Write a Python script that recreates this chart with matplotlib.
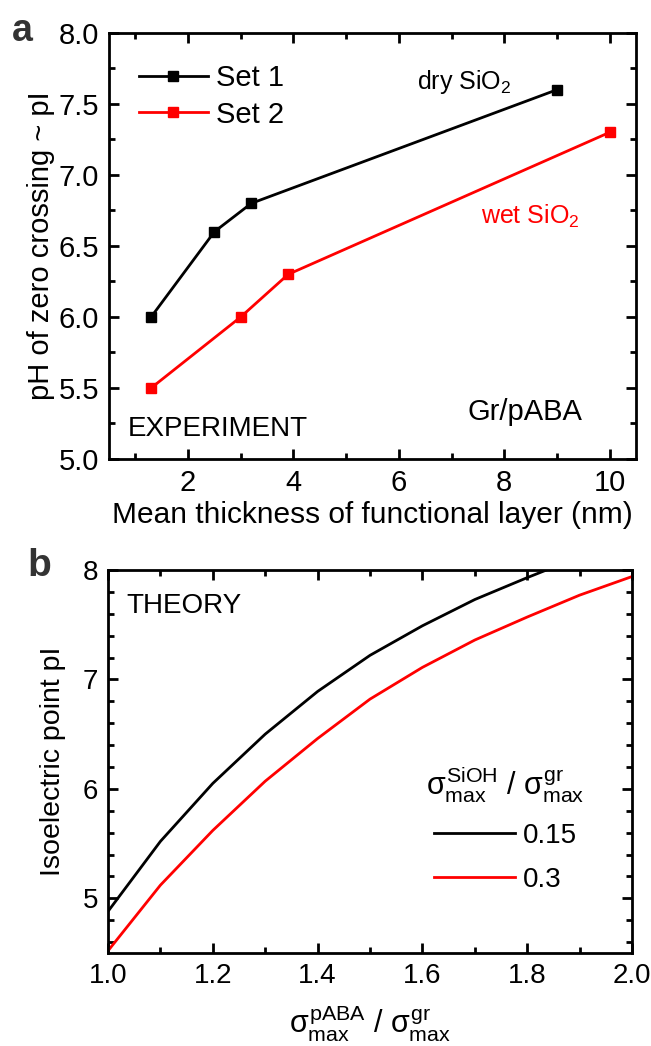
import matplotlib
matplotlib.use("Agg")
import matplotlib.pyplot as plt
from matplotlib.ticker import MultipleLocator, FormatStrFormatter

plt.rcParams["font.family"] = ["Liberation Sans", "DejaVu Sans"]
plt.rcParams["mathtext.fontset"] = "custom"
plt.rcParams["mathtext.rm"] = "Liberation Sans"
plt.rcParams["mathtext.it"] = "Liberation Sans"
plt.rcParams["mathtext.bf"] = "Liberation Sans:bold"

# panel a: experiment
set1_x = [1.3, 2.5, 3.2, 9.0]
set1_y = [6.0, 6.6, 6.8, 7.6]
set2_x = [1.3, 3.0, 3.9, 10.0]
set2_y = [5.5, 6.0, 6.3, 7.3]

# panel b: theory
ratio = [1.0, 1.1, 1.2, 1.3, 1.4, 1.5, 1.6, 1.7, 1.8, 1.9, 2.0]
pi_015 = [4.88, 5.52, 6.05, 6.50, 6.89, 7.22, 7.49, 7.73, 7.93, 8.12, 8.30]
pi_03 = [4.52, 5.12, 5.62, 6.07, 6.46, 6.82, 7.11, 7.36, 7.57, 7.77, 7.94]
legend_b = ["0.15", "0.3"]

RED = "#ff0000"

fig = plt.figure(figsize=(6.51, 10.46), dpi=100)
ax1 = fig.add_axes([0.1674, 0.5612, 0.8095, 0.4073])
ax2 = fig.add_axes([0.1659, 0.0889, 0.8050, 0.3662])


def style(ax, size):
    for s in ax.spines.values():
        s.set_linewidth(2.0)
    ax.tick_params(which="both", direction="in", top=True, right=True,
                   labelsize=size, pad=7)
    ax.tick_params(which="major", length=7, width=2)
    ax.tick_params(which="minor", length=4, width=2)


# --- a ---
ax1.plot(set1_x, set1_y, "-s", color="black", lw=2, ms=7, label="Set 1")
ax1.plot(set2_x, set2_y, "-s", color=RED, lw=2, ms=7, label="Set 2")
ax1.set_xlim(0.5, 10.5)
ax1.set_ylim(5.0, 8.0)
ax1.xaxis.set_major_locator(MultipleLocator(2))
ax1.xaxis.set_minor_locator(MultipleLocator(1))
ax1.yaxis.set_major_locator(MultipleLocator(0.5))
ax1.yaxis.set_minor_locator(MultipleLocator(0.25))
ax1.yaxis.set_major_formatter(FormatStrFormatter("%.1f"))
style(ax1, 21)
ax1.set_xlabel("Mean thickness of functional layer (nm)", fontsize=21.5,
               labelpad=3)
ax1.set_ylabel("pH of zero crossing ~ pI", fontsize=21, labelpad=3)
ax1.legend(loc="upper left", fontsize=21, frameon=False, handlelength=2.35,
           handletextpad=0.3, labelspacing=0.3, borderaxespad=0.0,
           bbox_to_anchor=(0.035, 0.955))
ax1.text(0.585, 0.885, "dry SiO$_2$", transform=ax1.transAxes, fontsize=18,
         va="center")
ax1.text(0.705, 0.57, "wet SiO$_2$", transform=ax1.transAxes, fontsize=18,
         va="center", color=RED)
ax1.text(0.68, 0.11, "Gr/pABA", transform=ax1.transAxes, fontsize=21,
         va="center")
ax1.text(0.035, 0.07, "EXPERIMENT", transform=ax1.transAxes, fontsize=20,
         va="center")
fig.text(0.018, 0.988, "a", fontsize=27, fontweight="bold", va="top",
         color="#333333")

# --- b ---
ax2.plot(ratio, pi_015, color="black", lw=2, label=legend_b[0])
ax2.plot(ratio, pi_03, color=RED, lw=2, label=legend_b[1])
ax2.set_xlim(1.0, 2.0)
ax2.set_ylim(4.5, 8.0)
ax2.xaxis.set_major_locator(MultipleLocator(0.2))
ax2.xaxis.set_minor_locator(MultipleLocator(0.1))
ax2.yaxis.set_major_locator(MultipleLocator(1))
ax2.yaxis.set_minor_locator(MultipleLocator(0.2))
ax2.xaxis.set_major_formatter(FormatStrFormatter("%.1f"))
style(ax2, 20)
ax2.set_ylabel("Isoelectric point pI", fontsize=20.5, labelpad=12)
ax2.set_xlabel(r"$\sigma^{\rm pABA}_{\rm max}$ / $\sigma^{\rm gr}_{\rm max}$",
               fontsize=22, labelpad=11)
ax2.legend(loc="center left", bbox_to_anchor=(0.56, 0.325), fontsize=20,
           frameon=False, handlelength=2.9, handletextpad=0.3,
           labelspacing=0.65,
           title=r"$\sigma^{\rm SiOH}_{\rm max}$ / $\sigma^{\rm gr}_{\rm max}$",
           title_fontsize=22)
ax2.text(0.035, 0.905, "THEORY", transform=ax2.transAxes, fontsize=20,
         va="center")
fig.text(0.042, 0.476, "b", fontsize=28, fontweight="bold", va="top",
         color="#333333")

fig.savefig("out.png", dpi=100)
